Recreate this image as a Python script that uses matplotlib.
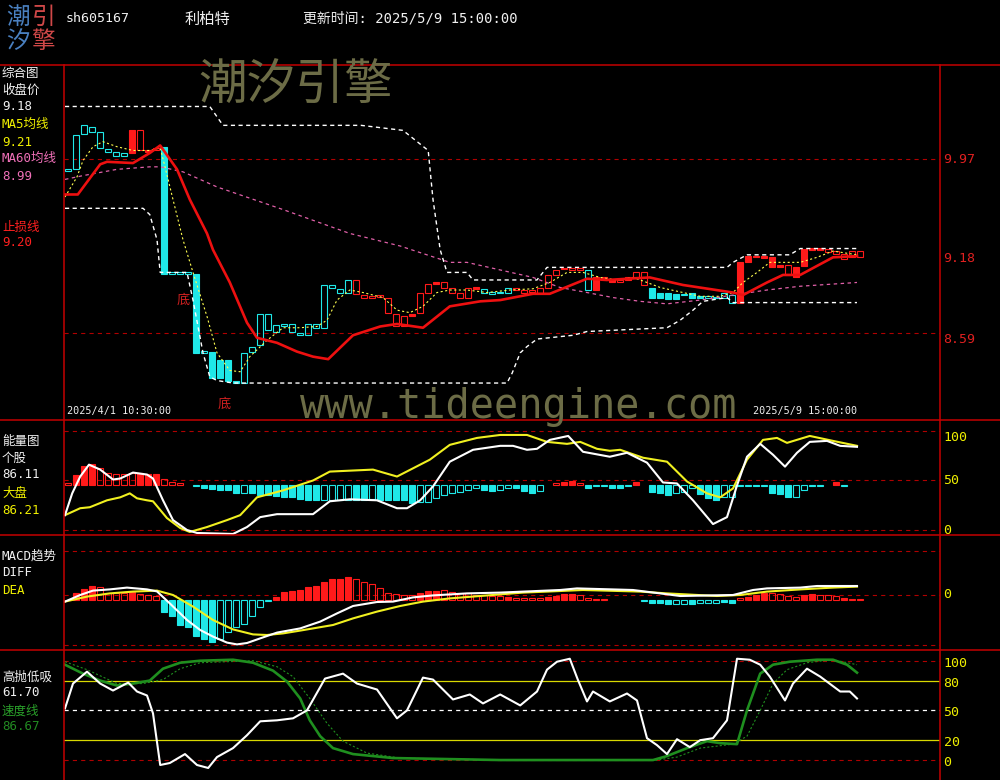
import matplotlib.pyplot as plt
from matplotlib.patches import Rectangle
from matplotlib.lines import Line2D

plt.rcParams['font.family'] = ['DejaVu Sans Mono', 'Noto Sans CJK SC']
plt.rcParams['lines.scale_dashes'] = False

W, H = 1000, 780

# ---------------- price panel: 100 hourly bars, 2025/4/1 10:30 -> 2025/5/9 15:00
opens = [9.88, 9.89, 10.17, 10.19, 10.06, 10.03, 10.00, 10.00, 10.20, 10.04,
         10.04, 10.04, 10.07, 9.06, 9.06, 9.06, 9.06, 8.43, 8.44, 8.37,
         8.37, 8.21, 8.19, 8.44, 8.49, 8.61, 8.60, 8.64, 8.60, 8.57,
         8.57, 8.63, 8.63, 8.95, 8.91, 8.91, 8.90, 8.87, 8.87, 8.875,
         8.75, 8.64, 8.64, 8.74, 8.75, 8.91, 8.99, 8.95, 8.91, 8.87,
         8.87, 8.95, 8.91, 8.90, 8.905, 8.91, 8.93, 8.91, 8.915, 8.91,
         8.95, 9.05, 9.105, 9.09, 9.09, 8.93, 9.03, 9.03, 9.01, 8.99,
         9.03, 9.03, 8.97, 8.95, 8.91, 8.91, 8.90, 8.89, 8.91, 8.88,
         8.87, 8.875, 8.87, 8.83, 9.15, 9.20, 9.20, 9.195, 9.19, 9.13,
         9.05, 9.11, 9.26, 9.26, 9.255, 9.23, 9.22, 9.18, 9.19, 9.19]
closes = [9.89, 10.16, 10.24, 10.23, 10.19, 10.05, 10.03, 10.02, 10.02, 10.20,
          10.03, 10.06, 9.06, 9.06, 9.06, 9.06, 8.43, 8.43, 8.23, 8.23,
          8.21, 8.19, 8.43, 8.48, 8.74, 8.74, 8.65, 8.66, 8.66, 8.59,
          8.66, 8.66, 8.97, 8.97, 8.94, 9.01, 9.01, 8.89, 8.88, 8.88,
          8.87, 8.74, 8.72, 8.72, 8.91, 8.98, 8.98, 8.99, 8.95, 8.91,
          8.95, 8.94, 8.94, 8.91, 8.915, 8.95, 8.95, 8.93, 8.93, 8.95,
          9.05, 9.09, 9.095, 9.105, 9.10, 9.09, 8.93, 9.01, 8.99, 9.01,
          9.01, 9.07, 9.07, 8.87, 8.87, 8.86, 8.86, 8.90, 8.87, 8.87,
          8.88, 8.865, 8.91, 8.89, 8.83, 9.15, 9.19, 9.185, 9.11, 9.11,
          9.13, 9.03, 9.12, 9.25, 9.25, 9.26, 9.24, 9.22, 9.24, 9.24]
# trend colour of each bar: c = cyan, r = red
regime = ("cccccccc" "rrrr" "cccccccccccccccccccccccc" "rrrrrrrrrrrrrrrr"
          "cccc" "rrrrrrrrr" "c" "rrrrrrr" "ccccccccccc" "rrrrrrrrrrrrrrrr")

stop_i = [0, 1.6, 4.4, 5.25, 8.5, 10.6, 11.9, 14, 15.6, 17.75, 18.5, 20.6, 22.75, 24, 26.5, 29, 31, 32.9, 36, 39.4,
          41.5, 44.75, 48.1, 51.9, 54.4, 58.5, 60.6, 65.25, 67.75, 73.1, 77.25, 83.5, 84.75, 87.75, 89.75, 91.9, 96, 99]
stop_p = [9.69, 9.69, 9.93, 9.95, 9.94, 10.02, 10.08, 9.89, 9.65, 9.38, 9.25, 8.99, 8.67, 8.55, 8.51, 8.44, 8.40, 8.38, 8.57, 8.64,
          8.66, 8.63, 8.80, 8.84, 8.85, 8.90, 8.90, 9.02, 9.01, 9.03, 8.97, 8.91, 8.89, 8.99, 9.05, 9.05, 9.19, 9.20]

ma5_i = [0, 1.5, 2.25, 3.5, 4.75, 6.5, 8.5, 10.6, 11.9, 12.5, 13.5, 14.75, 16, 17.75, 19, 20.6, 21.9, 23.1, 25.25, 27.25,
         29.4, 31.5, 32.75, 34, 35.6, 37.25, 39.75, 41.5, 43.1, 44.75, 46.5, 48.1, 50.25, 52.75, 55.6, 58.5, 60.6, 62.75, 64.75, 66.9,
         69, 71, 72.75, 74.4, 77.25, 79.4, 81.9, 83.5, 84.75, 86.5, 88.1, 90.25, 91.9, 94, 96, 99]
ma5_p = [9.67, 9.83, 9.96, 10.07, 10.11, 10.07, 10.04, 10.04, 10.06, 9.91, 9.65, 9.33, 9.07, 8.72, 8.43, 8.29, 8.28, 8.40, 8.53, 8.63,
         8.63, 8.64, 8.69, 8.85, 8.93, 8.91, 8.87, 8.77, 8.75, 8.80, 8.91, 8.93, 8.93, 8.91, 8.93, 8.94, 8.99, 9.07, 9.07, 9.03,
         9.01, 9.03, 8.99, 8.95, 8.91, 8.88, 8.88, 8.91, 8.99, 9.07, 9.15, 9.15, 9.15, 9.19, 9.24, 9.21]

ma60_i = [0, 2.25, 6.5, 10.6, 11.9, 14.75, 19, 27.25, 35.6, 41.9, 48.1, 50.25, 58.5, 61.9, 65.25, 68.5, 71.9, 75.25,
          79.4, 83.5, 87.75, 91.9, 99]
ma60_p = [9.81, 9.84, 9.89, 9.91, 9.91, 9.87, 9.75, 9.57, 9.38, 9.28, 9.15, 9.15, 9.03, 8.95, 8.91, 8.87, 8.84, 8.82,
          8.85, 8.89, 8.93, 8.96, 8.99]

up_i = [0, 18.1, 19.75, 37, 42.25, 45.4, 46, 46.9, 47.75, 50.25, 51, 59, 60.25, 82.75, 83.5, 85.25, 90.6, 91.9, 99]
up_p = [10.39, 10.39, 10.24, 10.24, 10.20, 10.04, 9.65, 9.25, 9.07, 9.07, 9.01, 9.01, 9.11, 9.11, 9.15, 9.21, 9.21, 9.26, 9.26]
dn_i = [0, 9.75, 10.6, 11.5, 11.9, 15.25, 16, 17.25, 18.1, 19, 21, 55.25, 55.9, 56.9, 57.75, 59, 63.5, 65.25,
        75.25, 76.9, 78.5, 79.75, 82.75, 83.5, 99]
dn_p = [9.58, 9.58, 9.53, 9.33, 9.07, 9.07, 8.85, 8.43, 8.24, 8.21, 8.19, 8.19, 8.27, 8.43, 8.48, 8.54, 8.57, 8.60,
        8.63, 8.69, 8.77, 8.84, 8.87, 8.83, 8.83]

bottom_marks_i = [14.4, 19.5]
bottom_marks_p = [8.85, 8.02]

# ---------------- energy panel
eng = [47.8, 55.6, 64.6, 66.7, 62.3, 57.2, 56.2, 56.2, 57.9, 57.9,
       56.6, 56.6, 51.2, 48.8, 47.0, 45.5, 44.5, 42.8, 41.4, 40.4,
       40.4, 37.0, 37.7, 37.0, 35.4, 35.4, 34.3, 33.7, 33.0, 31.3,
       30.3, 30.3, 30.3, 30.3, 30.3, 30.3, 30.3, 30.3, 31.3, 30.3,
       30.3, 30.3, 30.3, 27.0, 28.6, 28.6, 32.0, 35.4, 37.7, 38.7,
       40.4, 42.1, 40.4, 39.7, 40.4, 42.1, 42.1, 39.7, 37.7, 39.7,
       45.5, 47.5, 48.5, 49.8, 47.0, 42.8, 44.0, 44.5, 42.1, 42.1,
       44.5, 48.5, 45.5, 38.7, 37.7, 35.4, 37.7, 38.7, 42.1, 36.4,
       32.0, 30.3, 33.7, 33.7, 44.5, 44.5, 44.0, 44.5, 37.7, 36.4,
       33.7, 33.7, 40.4, 44.0, 44.5, 45.5, 48.5, 44.5, 45.5, 45.5]
eng_base = 45.5
eng_filled = [1, 2, 3, 9, 10, 11, 17, 18, 19, 20, 21, 23, 24, 25, 26, 27, 28, 29, 30, 31, 36, 37, 39, 40, 41, 42, 43,
              52, 53, 56, 57, 58, 62, 63, 65, 68, 69, 71, 73, 74, 75, 79, 80, 81, 86, 88, 89, 90, 96]
stock_i = [0, 0.9, 1.9, 3, 4.4, 6, 6.9, 8.5, 10.25, 11, 12.25, 13.5, 15.25, 16.5, 21, 22.75, 24.4, 26.5, 31, 33.1,
           35.6, 39, 41.5, 42.75, 44.4, 46, 48.1, 51, 54.4, 56, 57.75, 59, 60.6, 62.9, 64.75, 68.1, 70.25, 72.75, 74.75, 76.5,
           78.5, 81, 82.75, 84, 85.25, 86.9, 88.5, 90, 91.5, 93.1, 95.25, 96.9, 99]
stock_v = [15, 37, 54, 66, 61, 51, 52, 58, 56, 52, 30, 10, 0, -3, -4, 3, 13, 16, 16, 29,
           31, 30, 22, 22, 30, 44, 69, 81, 85, 85, 81, 82, 91, 95, 79, 74, 78, 68, 48, 47,
           30, 6, 13, 45, 74, 87, 76, 64, 78, 89, 90, 85, 84]
mkt_i = [0, 1.9, 3.1, 5.25, 6.9, 8.1, 9, 10.25, 11, 12.75, 14.4, 15.6, 17.75, 20.25, 21.9, 24, 27.25, 31, 33.1, 38.5,
         41.5, 45.6, 48.1, 51.5, 54.4, 57.75, 60.25, 62.75, 64.4, 66.5, 68.1, 69.4, 72.25, 75.25, 77.75, 80.25, 81.9, 83.5, 85.25, 87.25,
         89, 90.25, 93.1, 96, 99]
mkt_v = [15, 22, 23, 30, 33, 37, 32, 30, 29, 12, 2, -2, 3, 10, 15, 33, 40, 50, 59, 61,
         54, 71, 86, 93, 96, 96, 89, 87, 89, 82, 80, 81, 73, 69, 49, 37, 33, 42, 71, 91,
         93, 88, 95, 90, 85]

# ---------------- MACD panel
macd_h = [-0.025, 0.01, 0.029, 0.045, 0.039, 0.009, 0.009, 0.009, 0.017, 0.005,
          0.0, -0.005, -0.084, -0.105, -0.15, -0.162, -0.205, -0.222, -0.234, -0.222,
          -0.184, -0.162, -0.145, -0.105, -0.059, -0.029, -0.009, 0.014, 0.022, 0.025,
          0.039, 0.045, 0.064, 0.08, 0.08, 0.092, 0.079, 0.067, 0.055, 0.034,
          0.009, 0.004, 0.0, 0.0, 0.009, 0.02, 0.022, 0.025, 0.017, 0.009,
          0.009, 0.0, 0.0, -0.005, -0.005, -0.009, -0.015, -0.015, -0.015, -0.015,
          -0.009, -0.005, 0.005, 0.005, 0.0, -0.015, -0.019, -0.019, -0.025, -0.025,
          -0.025, -0.025, -0.029, -0.042, -0.042, -0.047, -0.045, -0.045, -0.045, -0.042,
          -0.042, -0.042, -0.037, -0.039, -0.017, -0.009, 0.0, 0.009, 0.009, 0.005,
          -0.005, -0.009, 0.0, 0.005, 0.0, 0.0, -0.005, -0.017, -0.02, -0.022]
macd_base = -0.025
macd_filled = [1, 2, 3, 8, 12, 13, 14, 15, 16, 17, 18, 26, 27, 28, 29, 30, 31, 32, 33, 34, 35, 44, 45, 46, 55,
               60, 61, 62, 63, 73, 74, 75, 78, 82, 83, 85, 86, 87, 92, 93, 97]
diff_i = [0, 1.9, 3.5, 5.6, 7.75, 10.25, 11.5, 13.1, 15.25, 16.9, 18.5, 20.25, 21.5, 22.75, 24.75, 26.5, 29.4, 31.9, 34, 36,
          39, 41, 43.5, 46, 50.25, 54.4, 61.9, 64, 71, 74.4, 76.9, 83.5, 86, 87.75, 91.9, 94, 99]
diff_v = [-0.033, 0.0, 0.022, 0.028, 0.037, 0.028, 0.018, -0.042, -0.125, -0.175, -0.208, -0.238, -0.247, -0.24, -0.212,
          -0.188, -0.167, -0.133, -0.092, -0.055, -0.035, -0.033, -0.012, -0.002, 0.008, 0.012, 0.025, 0.033, 0.025, 0.008,
          -0.005, 0.0, 0.025, 0.033, 0.037, 0.045, 0.045]
dea_i = [0, 2.75, 5.6, 8.5, 11.5, 13.5, 16, 18.5, 21, 23.5, 25.25, 27.25, 29.4, 33.5, 36, 39, 41.9, 44.75, 48.1, 54.4,
         57.25, 60.25, 64.75, 71.9, 75.25, 81.5, 84.4, 87.75, 91.9, 96, 99]
dea_v = [-0.033, -0.008, 0.008, 0.017, 0.022, 0.0, -0.058, -0.125, -0.172, -0.197, -0.2, -0.192, -0.178, -0.15, -0.117,
         -0.083, -0.055, -0.033, -0.017, 0.003, 0.012, 0.017, 0.025, 0.017, 0.008, -0.005, 0.0, 0.017, 0.028, 0.037, 0.042]

# ---------------- high/low oscillator panel
osc_i = [0, 1, 2.75, 4.4, 6, 7.9, 9, 10.25, 11, 11.9, 13.1, 15, 16.5, 17.9, 19, 21, 22.75, 24.4, 26.5, 28.5,
         30.25, 32.5, 34.75, 36.5, 39, 41.5, 42.75, 44.75, 46, 48.5, 50.6, 52.25, 54.4, 56.9, 59, 60.25, 61.5, 63.1, 64.1, 65.25,
         66, 68.1, 70.25, 71.5, 72.75, 74, 75.25, 76.5, 78.1, 79.4, 81, 82.75, 84, 85.6, 86.9, 88.1, 90, 91, 92.75, 94.4,
         96.9, 98.1, 99]
osc_v = [52, 77, 89, 77, 70, 78, 69, 65, 47, -5, -3, 6, -5, -8, 3, 12, 25, 39, 40, 42,
         50, 82, 87, 77, 71, 42, 50, 83, 81, 61, 66, 57, 66, 55, 69, 91, 99, 102, 81, 59,
         69, 59, 67, 60, 22, 15, 6, 21, 13, 20, 22, 40, 102, 101, 96, 84, 60, 77, 92, 84,
         69, 69, 62]
spd_i = [0, 2.25, 4.4, 6.5, 8.5, 10.6, 12.25, 14.4, 16.9, 21, 23.5, 26, 27.75, 29.4, 30.6, 31.9, 33.5, 36, 41, 54.4,
         73.5, 75.25, 77.75, 80.25, 81.9, 84, 85.25, 86.9, 88.5, 90.6, 94, 96, 97.75, 99]
spd_v = [96, 87, 80, 75, 77, 80, 92, 98, 100, 101, 98, 90, 79, 62, 40, 24, 12, 6, 2, 0,
         0, 4, 12, 19, 17, 16, 50, 87, 96, 99, 101, 101, 96, 88]
slw_i = [0, 2.75, 6.5, 9.75, 12.25, 14.4, 16.9, 23.5, 26.5, 28.5, 30.6, 32.75, 34.75, 37.75, 41.9, 54.4, 74, 76.5, 79.4, 83.5,
         85.25, 86.9, 88.5, 90.25, 92.75, 96, 99]
slw_v = [99, 91, 77, 77, 81, 92, 98, 100, 94, 84, 62, 37, 19, 7, 2, 0, 0, 3, 12, 16,
         24, 50, 77, 91, 98, 101, 96]

RED = '#ff1a1a'
CYAN = '#1fe8e8'
FRAME = '#c40000'
GRID = '#b00000'
YEL = '#f0f000'
PINK = '#e060a8'
GREEN = '#1f8f1f'
OLIVE = '#6c6c46'
SHIFT = -0.375   # indicator lines sit on the left edge of each bar

fig = plt.figure(figsize=(10, 7.8), dpi=100, facecolor='black')


def panel(top, bottom, ylo, yhi):
    ax = fig.add_axes([64 / W, 1 - bottom / H, 876 / W, (bottom - top) / H])
    ax.set_xlim(-0.5, 109)
    ax.set_ylim(ylo, yhi)
    ax.axis('off')
    return ax


def sx(v):
    return [t + SHIFT for t in v]


def boxes(ax, lo, hi, cols, filled, minh, width=0.78):
    for i, (a, b, col, f) in enumerate(zip(lo, hi, cols, filled)):
        if col is None:
            continue
        ax.add_patch(Rectangle((i - width / 2, a), width, max(b - a, minh),
                               facecolor=col if f else 'none', edgecolor=col, lw=0.8, zorder=2))


def hist(ax, vals, base, filled_idx, minh, eps):
    lo, hi, cols, fl = [], [], [], []
    for i, v in enumerate(vals):
        lo.append(min(v, base))
        hi.append(max(v, base))
        cols.append(None if abs(v - base) < eps else (RED if v > base else CYAN))
        fl.append(i in filled_idx)
    boxes(ax, lo, hi, cols, fl, minh)


def grid(ax, y, color=GRID, ls=(0, (3, 3)), lw=0.8):
    ax.axhline(y, color=color, ls=ls, lw=lw, zorder=1)


def rlabel(ax, y, s, color, va='center'):
    ax.text(1.004, y, s, transform=ax.get_yaxis_transform(), color=color, fontsize=9.5,
            ha='left', va=va, clip_on=False)


def label(x, y, s, color, size=9, **kw):
    fig.text(x / W, 1 - y / H, s, color=color, fontsize=size, va='center', **kw)


# ---- price panel
ax1 = panel(65, 420, 7.896, 10.72)
grid(ax1, 9.97)
grid(ax1, 8.59)
boxes(ax1, [min(o, c) for o, c in zip(opens, closes)], [max(o, c) for o, c in zip(opens, closes)],
      [RED if r == 'r' else CYAN for r in regime], [c < o for o, c in zip(opens, closes)], 0.012)
ax1.plot(sx(up_i), up_p, color='white', lw=1.0, ls=(0, (3, 2.5)), zorder=3)
ax1.plot(sx(dn_i), dn_p, color='white', lw=1.0, ls=(0, (3, 2.5)), zorder=3)
ax1.plot(sx(ma60_i), ma60_p, color=PINK, lw=0.9, ls=(0, (2.5, 2.5)), zorder=3)
ax1.plot(sx(ma5_i), ma5_p, color='#ffff50', lw=0.8, ls=(0, (1.5, 1.8)), zorder=3)
ax1.plot(sx(stop_i), stop_p, color='#ee1010', lw=1.9, zorder=4)
for bi, bp in zip(bottom_marks_i, bottom_marks_p):
    ax1.text(bi, bp, '底', color='#d02020', fontsize=9.5, ha='center', va='center')
rlabel(ax1, 9.97, '9.97', '#e02020')
rlabel(ax1, 9.18, '9.18', '#e02020')
rlabel(ax1, 8.59, '8.59', '#e02020', va='top')

# ---- energy panel
ax2 = panel(420, 535, -5.05, 111.1)
for y in (100, 50, 0):
    grid(ax2, y)
hist(ax2, eng, eng_base, eng_filled, 1.0, 0.3)
ax2.plot(sx(mkt_i), mkt_v, color='#f0f020', lw=1.5, zorder=3)
ax2.plot(sx(stock_i), stock_v, color='white', lw=1.5, zorder=4)
rlabel(ax2, 100, '100', YEL, va='top')
rlabel(ax2, 50, '50', YEL)
rlabel(ax2, 0, '0', YEL)

# ---- MACD panel
ax3 = panel(535, 650, -0.275, 0.30)
for y in (0.22, 0.0, -0.25):
    grid(ax3, y)
hist(ax3, macd_h, macd_base, macd_filled, 0.005, 0.001)
ax3.plot(sx(dea_i), dea_v, color='#f0f020', lw=1.5, zorder=3)
ax3.plot(sx(diff_i), diff_v, color='white', lw=1.5, zorder=4)
rlabel(ax3, 0.0, '0', YEL)

# ---- high/low oscillator panel
ax4 = panel(650, 780, -20.1, 110.8)
grid(ax4, 100)
grid(ax4, 0)
grid(ax4, 50, color='white', lw=0.9)
ax4.axhline(80, color='#d8d800', lw=0.9, zorder=1)
ax4.axhline(20, color='#d8d800', lw=0.9, zorder=1)
ax4.plot(sx(slw_i), slw_v, color=GREEN, lw=0.8, ls=(0, (1.5, 1.5)), zorder=3)
ax4.plot(sx(spd_i), spd_v, color=GREEN, lw=1.9, zorder=3)
ax4.plot(sx(osc_i), osc_v, color='white', lw=1.5, zorder=4)
for v, s in ((100, '100'), (80, '80'), (50, '50'), (20, '20'), (0, '0')):
    rlabel(ax4, v - 2.5, s, YEL)

# ---- frame
for y in (65, 420, 535, 650):
    fig.add_artist(Line2D([0, 1], [1 - y / H] * 2, color=FRAME, lw=1.1))
for x in (64, 940):
    fig.add_artist(Line2D([x / W] * 2, [1 - 65 / H, 0], color=FRAME, lw=1.1))

# ---- header
logo = [('潮', 18, 17, '#4a80c0'), ('引', 44, 17, '#d04848'), ('汐', 18, 41, '#4a80c0'), ('擎', 44, 41, '#d04848')]
for ch, x, y, col in logo:
    label(x, y, ch, col, size=17, ha='center')
label(66, 19, 'sh605167', '#f0f0f0', size=9.5)
label(185, 19, '利柏特', '#f0f0f0', size=11)
label(303, 19, '更新时间: 2025/5/9 15:00:00', '#f0f0f0', size=10)

# ---- left captions
for y, s, col in [(73, '综合图', '#f0f0f0'), (90, '收盘价', '#f0f0f0'), (107, '9.18', '#f0f0f0'),
                  (124, 'MA5均线', YEL), (142, '9.21', YEL), (158, 'MA60均线', '#f070b8'), (176, '8.99', '#f070b8'),
                  (227, '止损线', '#ff2020'), (243, '9.20', '#ff2020'),
                  (442, '能量图', '#f0f0f0'), (458, '个股', '#f0f0f0'), (475, '86.11', '#f0f0f0'),
                  (493, '大盘', YEL), (510, '86.21', YEL),
                  (556, 'MACD趋势', '#f0f0f0'), (573, 'DIFF', '#f0f0f0'), (590, 'DEA', YEL),
                  (677, '高抛低吸', '#f0f0f0'), (693, '61.70', '#f0f0f0'), (711, '速度线', '#2aa02a'),
                  (727, '86.67', '#228a22')]:
    label(2, y, s, col)

# ---- dates and watermarks
label(67, 411, '2025/4/1 10:30:00', '#f0f0f0', size=7.3)
label(753, 411, '2025/5/9 15:00:00', '#f0f0f0', size=7.3)
fig.text(296 / W, 1 - 86 / H, '潮汐引擎', color=OLIVE, fontsize=35, ha='center', va='center',
         family=['Noto Sans CJK SC'])
fig.text(300 / W, 1 - 418 / H, 'www.tideengine.com', color=OLIVE, fontsize=29, ha='left', va='baseline')

fig.savefig('out.png', dpi=100, facecolor='black')
